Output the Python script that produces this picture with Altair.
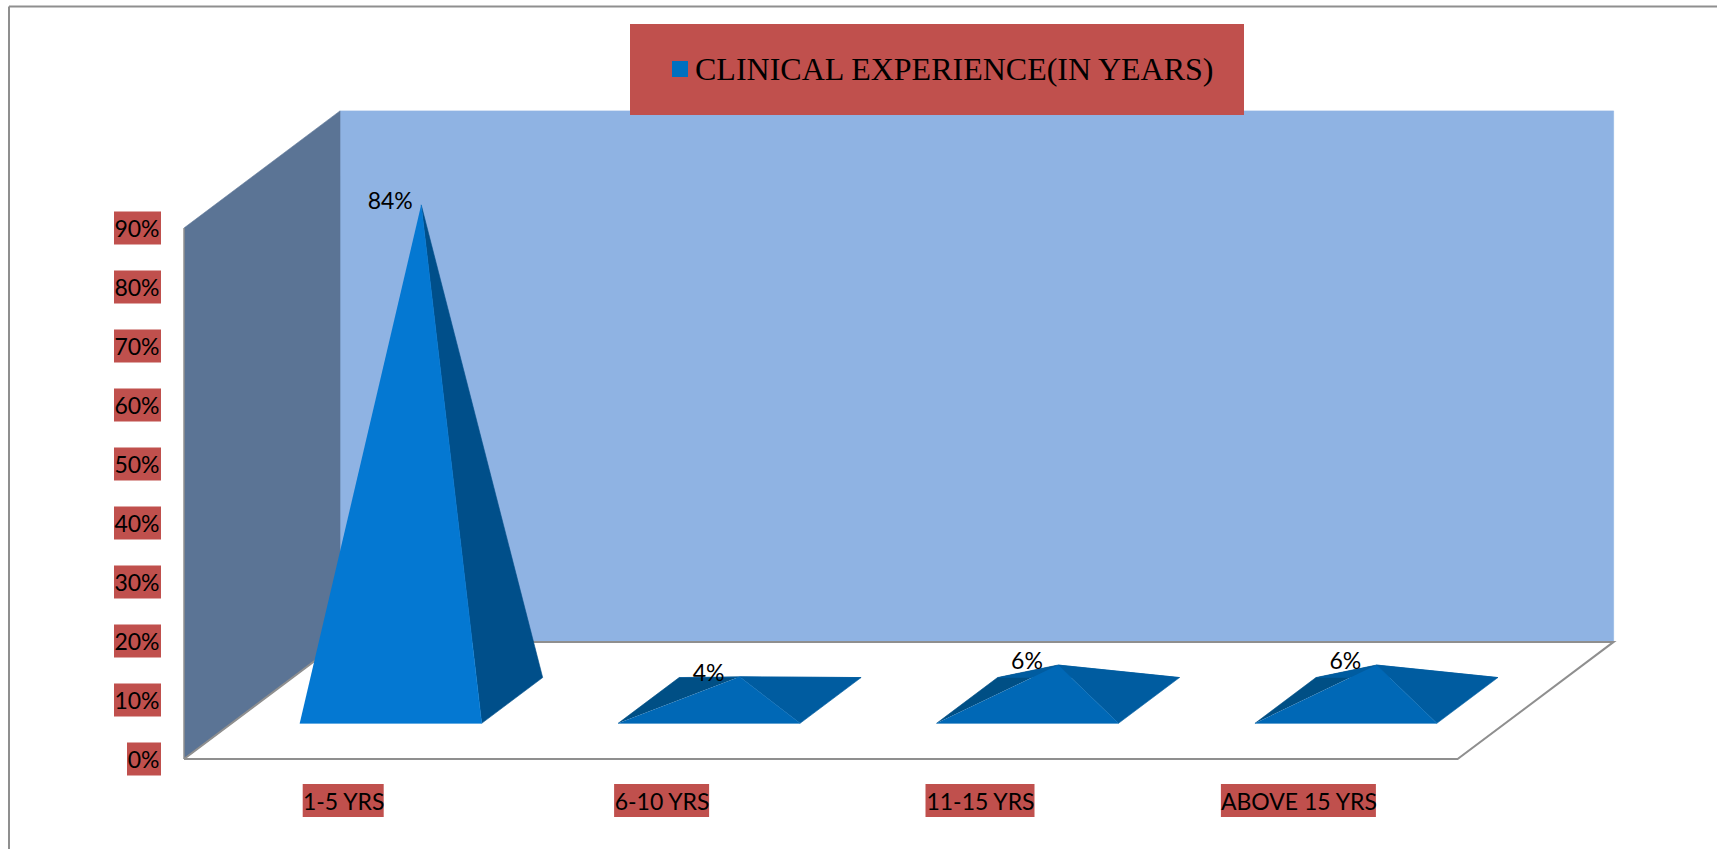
import altair as alt
import pandas as pd

# Survey results: share of respondents per band of clinical experience
categories = ["1-5 YRS", "6-10 YRS", "11-15 YRS", "ABOVE 15 YRS"]
shares = [84, 4, 6, 6]
y_ticks = [0, 10, 20, 30, 40, 50, 60, 70, 80, 90]
series_name = "CLINICAL EXPERIENCE(IN YEARS)"

W, H = 1717, 849
LABEL_FONT = "Lato"
LABEL_SIZE = 23
PX_X = 318.4            # pixels per category slot
PX_Y = 5.9              # pixels per percentage point
ORIGIN = (184, 759)     # pixel position of the front-left floor corner
DEPTH_X = 0.49          # slots shifted at full depth
DEPTH_Y = 19.85         # percentage points raised at full depth
WALL_TOP = 90

x_scale = alt.Scale(domain=[-ORIGIN[0] / PX_X, (W - ORIGIN[0]) / PX_X], range=[0, W], nice=False, zero=False)
y_scale = alt.Scale(domain=[(ORIGIN[1] - H) / PX_Y, ORIGIN[1] / PX_Y], range=[H, 0], nice=False, zero=False)


def project(u, depth, pct):
    """Oblique projection of a point in the chart box onto the x and y scales."""
    return u + depth * DEPTH_X, pct + depth * DEPTH_Y


def encoded(mark, frame, **extra):
    return mark.encode(
        x=alt.X("x:Q", scale=x_scale, axis=None),
        y=alt.Y("y:Q", scale=y_scale, axis=None),
        **extra,
    ).properties(data=alt.Data(values=frame.to_dict("records")))


def path(points):
    rows = [dict(zip("xy", project(*p)), i=i) for i, p in enumerate(points)]
    return pd.DataFrame(rows)


def polygon(points, colour):
    mark = alt.Chart().mark_line(fill=colour, stroke=colour, strokeWidth=0.6, interpolate="linear")
    return encoded(mark, path(points), order=alt.Order("i:Q"))


def edge(points, width=2.0):
    mark = alt.Chart().mark_line(stroke="#8f8f8f", strokeWidth=width)
    return encoded(mark, path(points), order=alt.Order("i:Q"))


# Red plates behind the axis labels; this layer also carries both real axes
plate_rows = []
for t in y_ticks:
    half_h = 16.5 / PX_Y
    left = 127 if t == 0 else 114
    plate_rows.append({"x": (left - ORIGIN[0]) / PX_X, "x2": (161 - ORIGIN[0]) / PX_X, "y": t - half_h, "y2": t + half_h})
plate_px = [81, 95, 109, 155]
for k, w in enumerate(plate_px):
    half_w = w / 2 / PX_X
    mid = (ORIGIN[1] - 800.5) / PX_Y
    plate_rows.append({"x": k + 0.5 - half_w, "x2": k + 0.5 + half_w, "y": mid - 16.5 / PX_Y, "y2": mid + 16.5 / PX_Y})

names_expr = "{'0.5':'%s','1.5':'%s','2.5':'%s','3.5':'%s'}[format(datum.value,'.1f')]" % tuple(categories)
plates = alt.Chart(pd.DataFrame(plate_rows)).mark_rect(color="#c0504d").encode(
    x=alt.X("x:Q", scale=x_scale, axis=alt.Axis(
        orient="bottom", offset=-46.5, values=[k + 0.5 for k in range(len(categories))],
        labelExpr=names_expr, title=None, domain=False, ticks=False, grid=False, labelPadding=0,
        labelBaseline="middle", labelAlign="center", labelFont=LABEL_FONT, labelFontSize=LABEL_SIZE,
        labelColor="#000000", zindex=1, labelOverlap=False, labelFlush=False)),
    x2="x2:Q",
    y=alt.Y("y:Q", scale=y_scale, axis=alt.Axis(
        orient="left", offset=-159, values=y_ticks, labelExpr="datum.value + '%'", title=None,
        domain=False, ticks=False, grid=False, labelPadding=0, labelOffset=1.5, labelFont=LABEL_FONT,
        labelFontSize=LABEL_SIZE, labelColor="#000000", zindex=1, labelOverlap=False, labelFlush=False)),
    y2="y2:Q",
)

n = len(categories)
layers = [plates]

# Chart box: back wall, side wall and floor outline
layers.append(polygon([(0, 1, 0), (n, 1, 0), (n, 1, WALL_TOP), (0, 1, WALL_TOP)], "#8fb3e3"))
layers.append(polygon([(0, 0, 0), (0, 1, 0), (0, 1, WALL_TOP), (0, 0, WALL_TOP)], "#5b7495"))
layers.append(edge([(0, 0, 0), (n, 0, 0), (n, 1, 0), (0, 1, 0), (0, 0, 0)]))
layers.append(edge([(0, 0, 0), (0, 0, WALL_TOP)], 1.5))

# One pyramid per category, faces shaded per height
HALF_U = 0.2857
HALF_D = 0.1955
for k, share in enumerate(shares):
    c = k + 0.5
    fl, fr = (c - HALF_U, 0.5 - HALF_D, 0), (c + HALF_U, 0.5 - HALF_D, 0)
    bl, br = (c - HALF_U, 0.5 + HALF_D, 0), (c + HALF_U, 0.5 + HALF_D, 0)
    apex = (c, 0.5, share)
    tall = share > 50
    if not tall:
        layers.append(polygon([fl, bl, apex], "#004f85"))
        layers.append(polygon([bl, br, apex], "#005ca0"))
    layers.append(polygon([fr, br, apex], "#004f8a" if tall else "#005ca0"))
    layers.append(polygon([fl, fr, apex], "#0478d2" if tall else "#0068b6"))

# Value labels beside each apex
label_rows = []
for k, share in enumerate(shares):
    ax, ay = project(k + 0.5, 0.5, share)
    label_rows.append({"x": ax, "y": ay, "label": f"{share}%"})
layers.append(
    encoded(
        alt.Chart().mark_text(font=LABEL_FONT, fontSize=LABEL_SIZE, color="#000000", dx=-31, dy=-3),
        pd.DataFrame(label_rows),
        text="label:N",
    )
)

# Legend plate, swatch and series name
dummy = alt.Data(values=[{"series": series_name}])
layers.append(alt.Chart(dummy).mark_rect(color="#c0504d").encode(
    x=alt.value(630), x2=alt.value(1244), y=alt.value(24), y2=alt.value(115)))
layers.append(alt.Chart(dummy).mark_rect(color="#0070c0").encode(
    x=alt.value(672), x2=alt.value(688), y=alt.value(61), y2=alt.value(77)))
layers.append(alt.Chart(dummy).mark_text(
    font="Liberation Serif", fontSize=32, color="#000000", align="left", baseline="alphabetic"
).encode(x=alt.value(695), y=alt.value(80), text="series:N"))

# Outer frame of the figure: left and top rules only
layers.append(alt.Chart(dummy).mark_rule(color="#8f8f8f", strokeWidth=2).encode(
    x=alt.value(9), y=alt.value(6.5), y2=alt.value(H)))
layers.append(alt.Chart(dummy).mark_rule(color="#8f8f8f", strokeWidth=2).encode(
    x=alt.value(9), x2=alt.value(W), y=alt.value(6.5)))

chart = alt.layer(*layers).properties(
    width=W, height=H, padding=0, autosize="none", background="#ffffff"
).resolve_axis(x="independent", y="independent").configure_view(stroke=None)

chart.save("out.html", embed_options={"renderer": "svg", "actions": False})
